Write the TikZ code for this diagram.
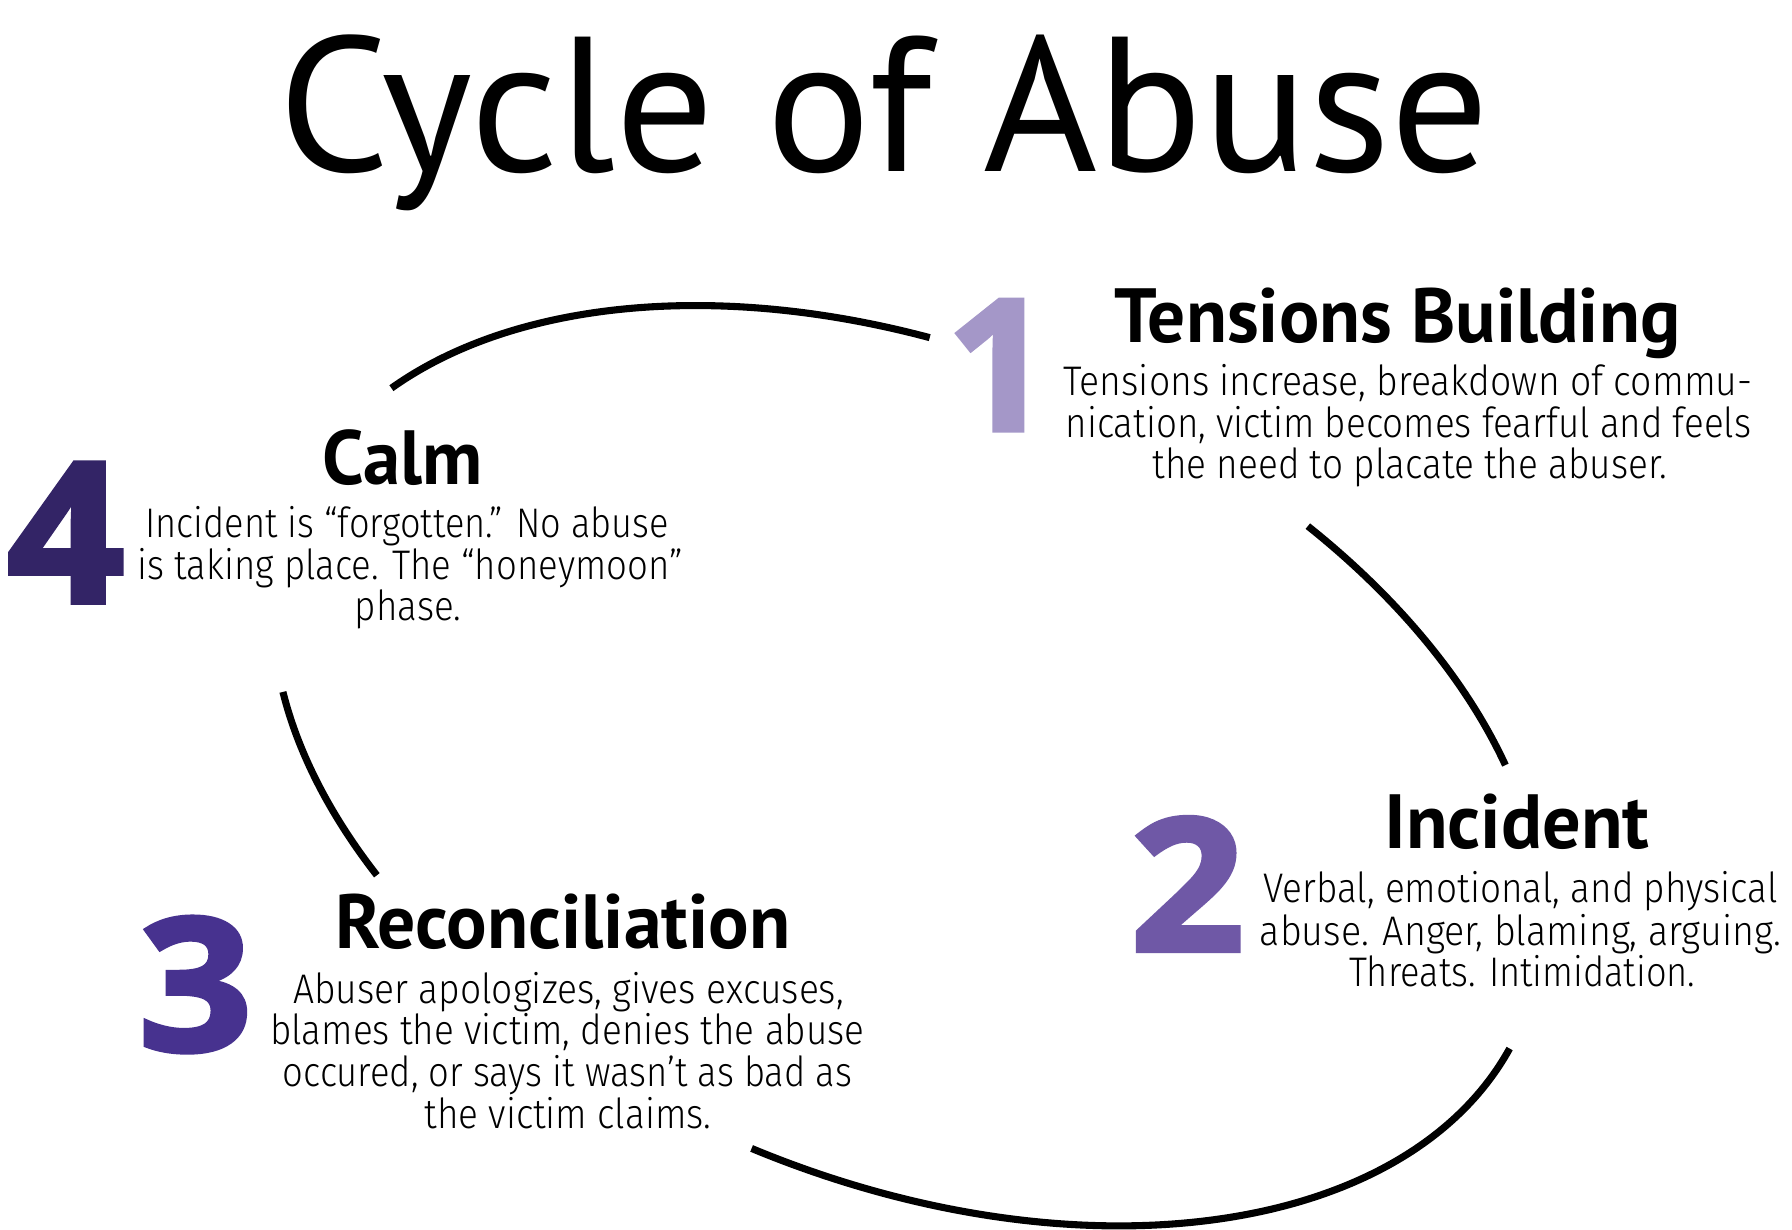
\documentclass[tikz,border=0pt]{standalone}
\usepackage{fontspec}
\usepackage{graphicx}
\setmainfont{PT Sans}
\newfontfamily\titlefont{PT Sans}
\newfontfamily\bodyfont{Fira Sans Light}
\newfontfamily\digitfont[BoldFeatures={FakeBold=2.5}]{Open Sans}
\newsavebox\fitbox
\newlength\fitlen
\newcommand\fitto[2]{\sbox\fitbox{#2}\setlength\fitlen{\wd\fitbox}\pgfmathsetmacro\fitr{#1*0.5/\fitlen}\scalebox{\fitr}[1]{\usebox\fitbox}}
\definecolor{cOne}{HTML}{A497C8}
\definecolor{cTwo}{HTML}{6F58A6}
\definecolor{cThree}{HTML}{47328F}
\definecolor{cFour}{HTML}{332466}
\tikzset{
  titletext/.style={anchor=base west, inner sep=0pt, font=\titlefont\fontsize{84}{84}\selectfont},
  headtext/.style={anchor=base west, inner sep=0pt, font=\bfseries\fontsize{33.6}{34}\selectfont},
  bodytext/.style={anchor=base west, inner sep=0pt, font=\bodyfont\fontsize{18.1}{19}\selectfont},
  digit/.style={anchor=center, inner sep=0pt},
  cyclearc/.style={line width=3.1pt, line cap=butt, black}
}
\begin{document}
\begin{tikzpicture}[x=0.5pt, y=-0.5pt]
\fill[white] (0,0) rectangle (1568,1076.25);
\useasboundingbox (0,0) rectangle (1568,1076.25);

% title
\node[titletext] (title) at (243,150) {\fitto{1060}{Cycle of Abuse}};

% cycle arcs (parts of one tilted ellipse)
\coordinate (ctr) at (794,670);
\begin{scope}[shift={(ctr)}, y=0.5pt, rotate=-22.8]
  \draw[cyclearc] (159:291.5pt and 180.8pt) arc[start angle=159, end angle=102.6, x radius=291.5pt, y radius=180.8pt];
  \draw[cyclearc] (65.5:291.5pt and 180.8pt) arc[start angle=65.5, end angle=34.2, x radius=291.5pt, y radius=180.8pt];
  \draw[cyclearc] (-3.8:291.5pt and 180.8pt) arc[start angle=-3.8, end angle=-89.6, x radius=291.5pt, y radius=180.8pt];
  \draw[cyclearc] (204.9:291.5pt and 180.8pt) arc[start angle=204.9, end angle=227.9, x radius=291.5pt, y radius=180.8pt];
\end{scope}

% numbers
\node[digit, text=cOne] (n1) at (874,319.5) {\scalebox{1.0}[1]{\resizebox{!}{57pt}{\digitfont\bfseries 1}}};
\node[digit, text=cTwo] (n2) at (1039,773.5) {\scalebox{1.08}[1]{\resizebox{!}{58.5pt}{\digitfont\bfseries 2}}};
\node[digit, text=cThree] (n3) at (171,861.5) {\scalebox{1.08}[1]{\resizebox{!}{58.5pt}{\digitfont\bfseries 3}}};
\node[digit, text=cFour] (n4) at (57.5,466) {\scalebox{1.05}[1]{\resizebox{!}{61pt}{\digitfont\bfseries 4}}};

% 1 Tensions Building
\node[headtext] (h1) at (975,300) {\fitto{495}{Tensions Building}};
\node[bodytext] (b1a) at (930,346) {\fitto{603}{Tensions increase, breakdown of commu-}};
\node[bodytext] (b1b) at (932,383) {\fitto{600}{nication, victim becomes fearful and feels}};
\node[bodytext] (b1c) at (1008,419) {\fitto{450}{the need to placate the abuser.}};

% 4 Calm
\node[headtext] (h4) at (282,424) {\fitto{140}{Calm}};
\node[bodytext] (b4a) at (127,470) {\fitto{458}{Incident is “forgotten.” No abuse}};
\node[bodytext] (b4b) at (120,507) {\fitto{477}{is taking place. The “honeymoon”}};
\node[bodytext] (b4c) at (310,543) {\fitto{93}{phase.}};

% 2 Incident
\node[headtext] (h2) at (1211,742) {\fitto{232}{Incident}};
\node[bodytext] (b2a) at (1105,790) {\fitto{450}{Verbal, emotional, and physical}};
\node[bodytext] (b2b) at (1102,827) {\fitto{456}{abuse. Anger, blaming, arguing.}};
\node[bodytext] (b2c) at (1180,863) {\fitto{303}{Threats. Intimidation.}};

% 3 Reconciliation
\node[headtext] (h3) at (293,830) {\fitto{398}{Reconciliation}};
\node[bodytext] (b3a) at (256,878) {\fitto{482}{Abuser apologizes, gives excuses,}};
\node[bodytext] (b3b) at (236,914) {\fitto{520}{blames the victim, denies the abuse}};
\node[bodytext] (b3c) at (247,951) {\fitto{498}{occured, or says it wasn’t as bad as}};
\node[bodytext] (b3d) at (371,987) {\fitto{251}{the victim claims.}};
\end{tikzpicture}
\end{document}
